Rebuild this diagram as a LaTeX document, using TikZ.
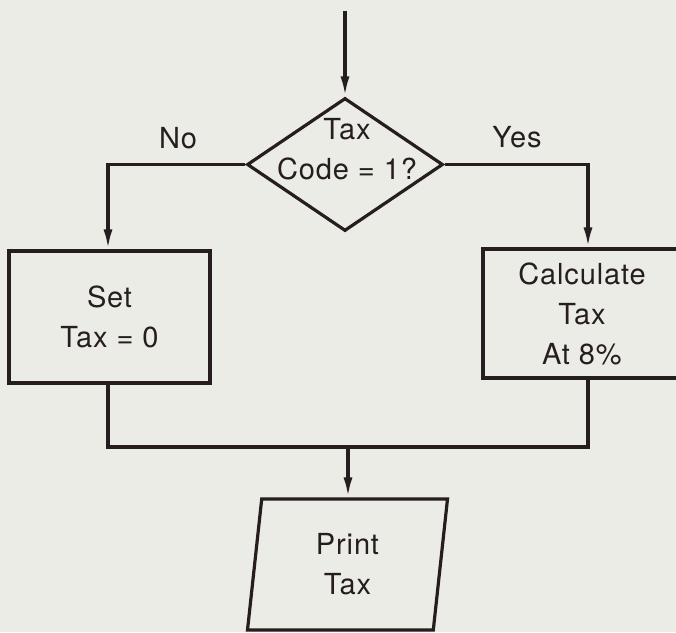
\documentclass[tikz,border=0pt]{standalone}
\usepackage{fontspec}
\setmainfont{TeX Gyre Heros}[LetterSpace=3]
\usetikzlibrary{arrows.meta,shapes.geometric}
\definecolor{inkline}{RGB}{38,30,30}
\definecolor{paper}{RGB}{236,236,231}

\begin{document}
\begin{tikzpicture}[x=1pt, y=-1pt,
    every node/.style={font=\fontsize{29}{40}\selectfont, text=inkline, align=center},
    line/.style={draw=inkline, line width=3.2pt},
    flow/.style={line, -{Latex[length=20pt,width=9pt]}},
    procbox/.style={line, rectangle, inner sep=0pt},
    decision/.style={line, diamond, inner sep=0pt},
    iobox/.style={line, trapezium, trapezium left angle=77, trapezium right angle=103,
      trapezium stretches body, inner sep=0pt}]
  \clip (0,0) rectangle (676,632);
  \fill[paper] (0,0) rectangle (676,632);

  \coordinate (start) at (345,11);
  \node[decision, minimum width=196pt, minimum height=133pt] (dec) at (345,164.5) {};
  \node (dectext) at (347,149) {Tax\\Code = 1?};
  \node[procbox, minimum width=201pt, minimum height=132pt] (setbox) at (109.5,317) {Set\\Tax = 0};
  \node[procbox, minimum width=198pt, minimum height=129pt] (calcbox) at (582,313.5) {Calculate\\Tax\\At 8\%};
  \node[iobox, minimum width=200pt, minimum height=131pt] (print) at (347.5,564.5) {Print\\Tax};
  \node (no) at (178,138) {No};
  \node (yes) at (517,137) {Yes};

  \coordinate (merge) at (348,447);
  \draw[flow] (start) -- (dec.north);
  \draw[flow] (dec.west) -| ([xshift=-1.5pt]setbox.north);
  \draw[flow] (dec.east) -| ([xshift=6pt]calcbox.north);
  \draw[line] ([xshift=-1.5pt]setbox.south) |- (merge) -| ([xshift=6pt]calcbox.south);
  \draw[flow] (merge) -- (merge |- print.north);
\end{tikzpicture}
\end{document}
